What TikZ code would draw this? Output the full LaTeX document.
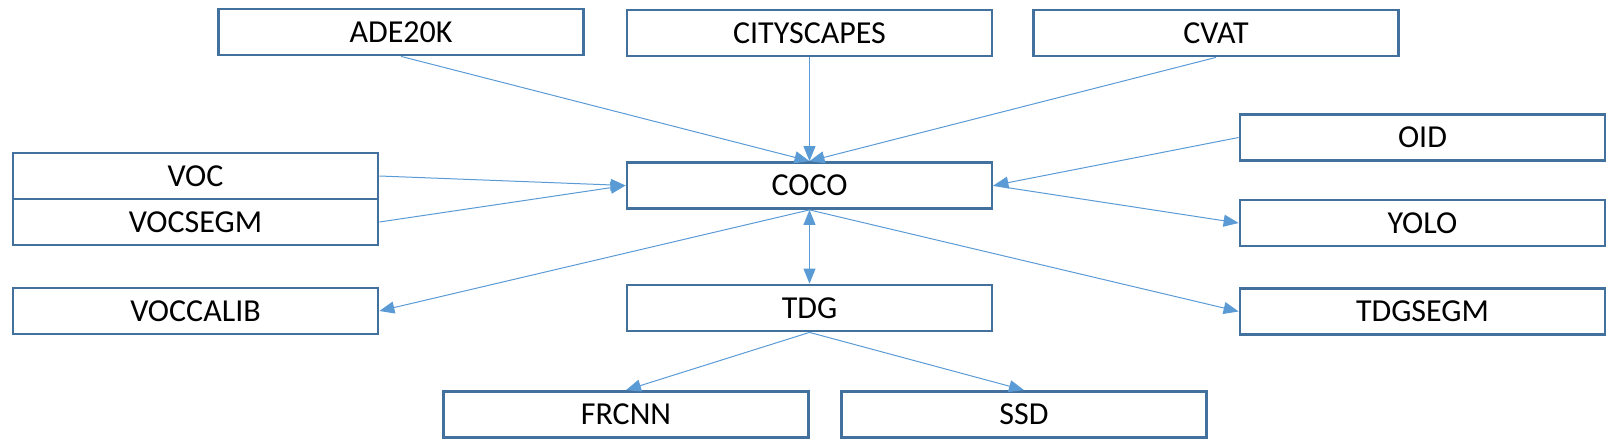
\documentclass[tikz,border=0pt]{standalone}
\usepackage{fontspec}
\setmainfont{Carlito}
\usetikzlibrary{arrows.meta}
\definecolor{boxc}{HTML}{41719C}
\definecolor{arrc}{HTML}{5B9BD5}
\begin{document}
\begin{tikzpicture}[x=1pt,y=-1pt,
  box/.style={draw=boxc, line width=2.8pt, minimum width=365pt, minimum height=46pt, inner sep=0pt, font=\fontsize{32}{34}\selectfont},
  conn/.style={draw=arrc, line width=1pt, -{Triangle[length=15pt,width=12pt]}},
  dconn/.style={draw=arrc, line width=1pt, {Triangle[length=15pt,width=12pt]}-{Triangle[length=15pt,width=12pt]}}]
\useasboundingbox (0,0) rectangle (1622,441);
\node[box] (ade) at (401,32) {ADE20K};
\node[box] (city) at (809.5,33) {CITYSCAPES};
\node[box] (cvat) at (1216,33) {CVAT};
\node[box] (oid) at (1422.5,137.5) {OID};
\node[box] (voc) at (195.5,176) {VOC};
\node[box] (vocsegm) at (195.5,222) {VOCSEGM};
\node[box] (coco) at (809.5,185.5) {COCO};
\node[box] (yolo) at (1422.5,223) {YOLO};
\node[box] (voccalib) at (195.5,311) {VOCCALIB};
\node[box] (tdg) at (809.5,308) {TDG};
\node[box] (tdgsegm) at (1422.5,311.5) {TDGSEGM};
\node[box] (frcnn) at (626,414.5) {FRCNN};
\node[box] (ssd) at (1024,414.5) {SSD};
\draw[conn] (ade.south) -- (coco.north);
\draw[conn] (city.south) -- (coco.north);
\draw[conn] (cvat.south) -- (coco.north);
\draw[conn] (oid.west) -- (coco.east);
\draw[conn] (coco.east) -- (yolo.west);
\draw[conn] (voc.east) -- (coco.west);
\draw[conn] (vocsegm.east) -- (coco.west);
\draw[conn] (coco.south) -- (voccalib.east);
\draw[dconn] (coco.south) -- (tdg.north);
\draw[conn] (coco.south) -- (tdgsegm.west);
\draw[conn] (tdg.south) -- (frcnn.north);
\draw[conn] (tdg.south) -- (ssd.north);
\end{tikzpicture}
\end{document}
